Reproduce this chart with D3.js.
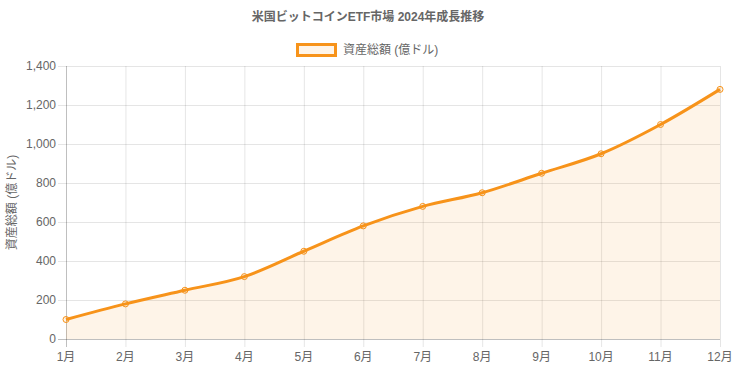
<!DOCTYPE html>
<html><head><meta charset="utf-8">
<script src="https://cdn.jsdelivr.net/npm/d3@7/dist/d3.min.js"></script>
<style>body{margin:0;background:#fff}svg{display:block}text{font-family:"Liberation Sans","Noto Sans CJK JP",Arial,sans-serif}</style>
</head><body><svg id="c" width="736" height="368"></svg>
<script>
const months = ["1月","2月","3月","4月","5月","6月","7月","8月","9月","10月","11月","12月"];
const assets = [100,180,250,320,450,580,680,750,850,950,1100,1280];
const yTicks = [0,200,400,600,800,1000,1200,1400];
const title = "米国ビットコインETF市場 2024年成長推移";
const seriesName = "資産総額 (億ドル)";
const yTitle = "資産総額 (億ドル)";

const svg = d3.select("#c");
const L=66, R=720, T=66, B=339;
const orange = "#f7931a";
const x = d3.scalePoint().domain(months).range([L,R]);
const y = d3.scaleLinear().domain([0,1400]).range([B,T]);
const fmt = d3.format(",");

const g = svg.append("g");
g.selectAll(".hg").data(yTicks).join("line")
 .attr("x1",L-8).attr("x2",R).attr("y1",d=>y(d)+0.5).attr("y2",d=>y(d)+0.5)
 .attr("stroke",d=>d===0?"rgba(0,0,0,0.25)":"rgba(0,0,0,0.1)");
g.selectAll(".vg").data(months).join("line")
 .attr("x1",d=>x(d)+0.5).attr("x2",d=>x(d)+0.5).attr("y1",T).attr("y2",B+8)
 .attr("stroke",(d,i)=>i===0?"rgba(0,0,0,0.25)":"rgba(0,0,0,0.1)");

svg.selectAll(".yl").data(yTicks).join("text")
 .attr("x",L-10).attr("y",d=>y(d)).attr("dy","0.35em").attr("text-anchor","end")
 .attr("font-size",12).attr("fill","#666").text(d=>fmt(d));
svg.selectAll(".xl").data(months).join("text")
 .attr("x",d=>x(d)).attr("y",B+18).attr("dy","0.35em").attr("text-anchor","middle")
 .attr("font-size",12).attr("fill","#666").text(d=>d);

const data = months.map((m,i)=>({m,v:assets[i]}));
const curve = d3.curveMonotoneX;
svg.append("path").datum(data)
 .attr("d",d3.area().x(d=>x(d.m)).y0(y(0)).y1(d=>y(d.v)).curve(curve))
 .attr("fill","rgba(247,147,26,0.1)");
svg.append("path").datum(data)
 .attr("d",d3.line().x(d=>x(d.m)).y(d=>y(d.v)).curve(curve))
 .attr("fill","none").attr("stroke",orange).attr("stroke-width",3);
svg.selectAll(".pt").data(data).join("circle")
 .attr("cx",d=>x(d.m)).attr("cy",d=>y(d.v)).attr("r",3)
 .attr("fill","rgba(247,147,26,0.1)").attr("stroke",orange).attr("stroke-width",1);

svg.append("text").attr("x",368).attr("y",17).attr("dy","0.35em").attr("text-anchor","middle")
 .attr("font-size",12).attr("font-weight","bold").attr("fill","#666").text(title);

svg.append("text").attr("x",343).attr("y",50).attr("dy","0.35em")
 .attr("font-size",12).attr("fill","#666").text(seriesName);
svg.append("rect").attr("x",297.5).attr("y",44.5).attr("width",38).attr("height",11)
 .attr("fill","rgba(247,147,26,0.1)").attr("stroke",orange).attr("stroke-width",3);

svg.append("text").attr("transform",`translate(12,${(T+B)/2}) rotate(-90)`)
 .attr("dy","0.35em").attr("text-anchor","middle").attr("font-size",12).attr("fill","#666").text(yTitle);
</script></body></html>
